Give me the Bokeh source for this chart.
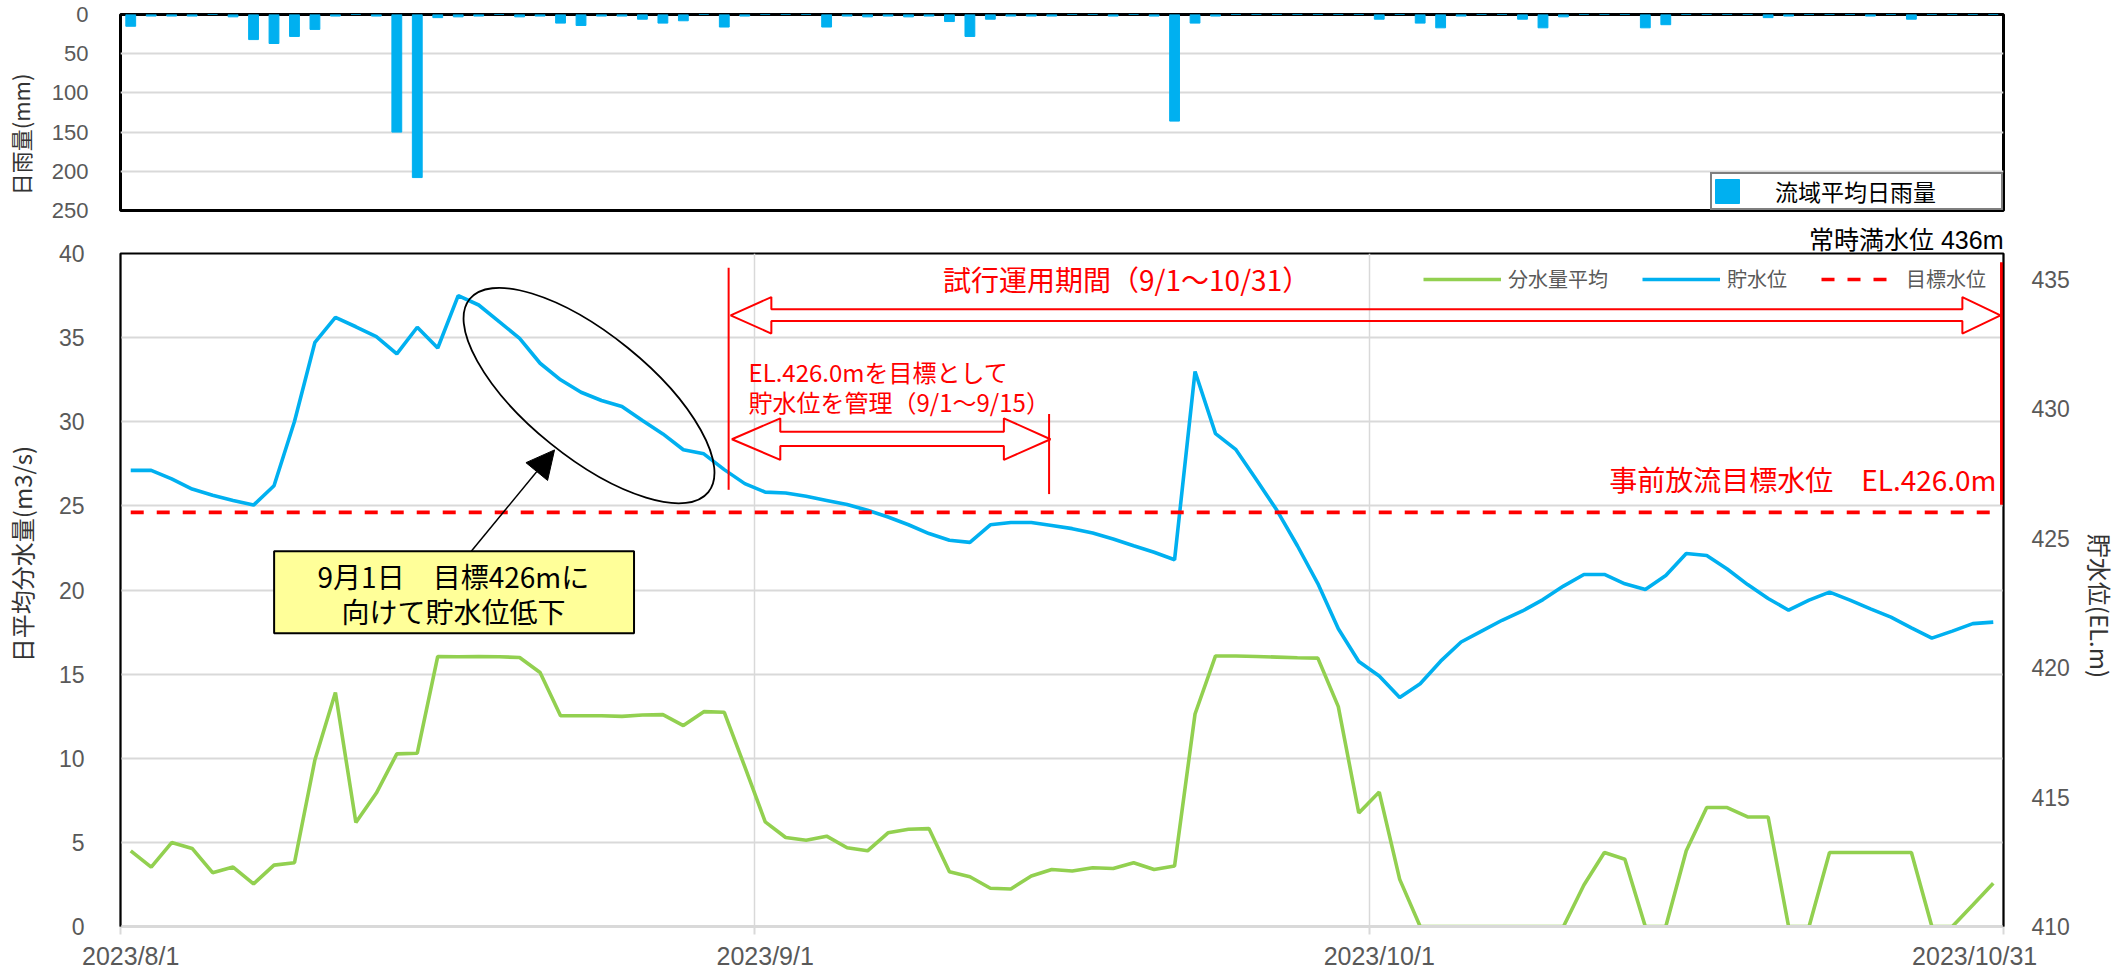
import math
from bokeh.plotting import figure
from bokeh.layouts import column
from bokeh.models import (Range1d, LinearAxis, FixedTicker, Legend, LegendItem,
                          Label, Arrow, NormalHead)
from bokeh.embed import file_html
from bokeh.resources import INLINE

# ---------------- data (day index 0 = 2023/8/1 ... 91 = 2023/10/31) ----------------
days = list(range(92))

rain_mm = [15, 2, 2, 2, 0, 3, 32, 37, 28, 19,
           2, 0, 2, 150, 208, 4, 3, 2, 0, 3,
           2, 11, 14, 2, 2, 6, 11, 8, 0, 16,
           2, 0, 0, 0, 16, 2, 3, 2, 3, 2,
           9, 28, 6, 2, 2, 2, 0, 0, 2, 0,
           2, 136, 11, 2, 0, 0, 0, 0, 0, 0,
           0, 6, 0, 11, 17, 2, 0, 0, 6, 17,
           3, 0, 0, 0, 17, 13, 0, 0, 0, 0,
           4, 2, 0, 0, 0, 2, 0, 6, 0, 0,
           0, 0]

diversion_m3s = [4.50, 3.53, 4.99, 4.64, 3.20, 3.53, 2.53, 3.65, 3.79, 9.91,
                 13.91, 6.18, 7.93, 10.26, 10.30, 16.05, 16.03, 16.05, 16.03, 15.99,
                 15.10, 12.53, 12.53, 12.53, 12.49, 12.57, 12.59, 11.94, 12.77, 12.73,
                 9.50, 6.22, 5.29, 5.13, 5.37, 4.68, 4.50, 5.57, 5.78, 5.82,
                 3.26, 2.96, 2.27, 2.23, 3.00, 3.39, 3.30, 3.49, 3.45, 3.79,
                 3.39, 3.59, 12.63, 16.08, 16.08, 16.05, 16.01, 15.97, 15.95, 13.07,
                 6.75, 7.99, 2.80, 0.0, 0.0, 0.0, 0.0, 0.0, 0.0, 0.0,
                 0.0, 2.47, 4.40, 4.00, 0.0, 0.0, 4.50, 7.07, 7.07, 6.51,
                 6.51, 0.0, 0.0, 4.40, 4.40, 4.40, 4.40, 4.40, 0.0, 0.0,
                 1.28, 2.57]

storage_level_m = [427.62, 427.62, 427.29, 426.90, 426.66, 426.46, 426.28, 427.03, 429.51, 432.57,
                   433.53, 433.17, 432.79, 432.12, 433.15, 432.35, 434.37, 434.01, 433.37, 432.72,
                   431.76, 431.12, 430.64, 430.32, 430.09, 429.55, 429.03, 428.42, 428.26, 427.65,
                   427.11, 426.78, 426.75, 426.62, 426.46, 426.30, 426.08, 425.82, 425.52, 425.18,
                   424.92, 424.84, 425.52, 425.61, 425.61, 425.49, 425.37, 425.20, 424.97, 424.71,
                   424.46, 424.17, 431.44, 429.04, 428.42, 427.26, 426.08, 424.71, 423.25, 421.50,
                   420.24, 419.68, 418.85, 419.38, 420.25, 420.99, 421.41, 421.83, 422.19, 422.63,
                   423.15, 423.60, 423.60, 423.24, 423.02, 423.56, 424.41, 424.33, 423.81, 423.21,
                   422.67, 422.22, 422.61, 422.92, 422.61, 422.27, 421.95, 421.54, 421.14, 421.41,
                   421.70, 421.76]

target_level_m = 426.0
full_level_m = 436.0

date_tick_positions = [0, 31, 61, 90.09]
date_tick_labels = ["2023/8/1", "2023/9/1", "2023/10/1", "2023/10/31"]
month_boundaries = [-0.5, 30.5, 60.5, 91.5]
rain_ticks = [0, 50, 100, 150, 200, 250]
flow_ticks = [0, 5, 10, 15, 20, 25, 30, 35, 40]
level_ticks = [410, 415, 420, 425, 430, 435]

BLUE = "#00B0F0"
GREEN = "#92D050"
RED = "#FF0000"
GRID = "#D9D9D9"
TICK = "#595959"
TITLE_C = "#333333"
JP = "Noto Sans CJK JP"
NUM = "Liberation Sans"
MIX = "Liberation Sans, Noto Sans CJK JP"   # latin metrics, CJK glyphs by fallback
W = 2120

# ---------------- layout helpers (page pixel -> data) ----------------
B_L, B_R, B_T, B_B = 111, 2006, 253, 928
bpx = (B_R - B_L) / 92.0
bpy = (B_B - B_T) / 40.0
def bx(X): return (X - B_L) / bpx - 0.5
def by(Y): return (B_B - Y) / bpy

# ---------------- top chart: rainfall ----------------
p1 = figure(width=W, height=223, x_range=Range1d(-0.5, 91.5), y_range=Range1d(250, 0),
            output_backend="svg", toolbar_location=None,
            min_border_top=14, min_border_bottom=13, min_border_left=115, min_border_right=W - 2006)
bars = p1.vbar(x=days, top=rain_mm, bottom=0, width=0.48, fill_color=BLUE, line_color=BLUE)
p1.xaxis.visible = False
ya = p1.yaxis[0]
ya.ticker = FixedTicker(ticks=rain_ticks)
ya.axis_line_color = None
ya.major_tick_line_color = None
ya.minor_tick_line_color = None
ya.major_label_text_font = NUM
ya.major_label_text_font_size = "22px"
ya.major_label_text_color = TICK
ya.major_label_standoff = 26
ya.axis_label = "日雨量(mm)" + "\u3000\u3000"
ya.axis_label_text_font = JP
ya.axis_label_text_font_size = "22px"
ya.axis_label_text_font_style = "normal"
ya.axis_label_text_color = TITLE_C
ya.axis_label_standoff = 13
p1.xgrid.visible = False
p1.ygrid.ticker = FixedTicker(ticks=[50, 100, 150, 200])
p1.ygrid.grid_line_color = GRID
p1.ygrid.grid_line_width = 2
p1.outline_line_color = "black"
p1.outline_line_width = 3
p1.outline_line_alpha = 1.0

leg1 = Legend(items=[LegendItem(label="流域平均日雨量", renderers=[bars])],
              location="bottom_right", margin=0, padding=0,
              glyph_width=30, glyph_height=30, label_standoff=33, label_width=226,
              label_text_font=MIX, label_text_font_size="23px", label_text_color="black",
              label_text_line_height=1.0,
              border_line_color="black", border_line_width=2,
              background_fill_color="white", background_fill_alpha=1.0)
p1.add_layout(leg1)

# ---------------- bottom chart: diversion & storage level ----------------
p2 = figure(width=W, height=749, x_range=Range1d(-0.5, 91.5), y_range=Range1d(0, 40),
            output_backend="svg", toolbar_location=None, title="常時満水位 436m",
            min_border_top=30, min_border_bottom=44, min_border_left=111, min_border_right=W - 2006)
p2.title.align = "right"
p2.title.text_font = MIX
p2.title.text_font_size = "25px"
p2.title.text_font_style = "normal"
p2.title.text_color = "black"
p2.title.standoff = 0
p2.extra_y_ranges = {"wl": Range1d(410, full_level_m)}

g_line = p2.line(days, diversion_m3s, line_color=GREEN, line_width=3.6)
b_line = p2.line(days, storage_level_m, y_range_name="wl", line_color=BLUE, line_width=3.6)
r_line = p2.line([days[0], days[-1]], [target_level_m, target_level_m], y_range_name="wl",
                 line_color=RED, line_width=3.6, line_dash="13 13")

xa = p2.xaxis[0]
xa.ticker = FixedTicker(ticks=date_tick_positions, minor_ticks=month_boundaries)
xa.major_label_overrides = {k: v for k, v in zip(date_tick_positions, date_tick_labels)}
xa.major_tick_line_color = None
xa.minor_tick_in = 0
xa.minor_tick_out = 8
xa.minor_tick_line_color = GRID
xa.minor_tick_line_width = 2
xa.axis_line_color = GRID
xa.axis_line_width = 3
xa.major_label_text_font = NUM
xa.major_label_text_font_size = "25px"
xa.major_label_text_color = TICK
xa.major_label_standoff = 7

la = p2.left[0]
la.ticker = FixedTicker(ticks=flow_ticks)
la.axis_line_color = "black"
la.axis_line_width = 1.5
la.major_tick_line_color = None
la.minor_tick_line_color = None
la.major_label_text_font = NUM
la.major_label_text_font_size = "23px"
la.major_label_text_color = TICK
la.major_label_standoff = 30
la.axis_label = "\u3000\u3000\u3000" + "日平均分水量(m3/s)"
la.axis_label_text_font = JP
la.axis_label_text_font_size = "24px"
la.axis_label_text_font_style = "normal"
la.axis_label_text_color = TITLE_C
la.axis_label_standoff = 17

ra = LinearAxis(y_range_name="wl", ticker=FixedTicker(ticks=level_ticks))
ra.axis_line_color = "black"
ra.axis_line_width = 1.5
ra.major_tick_line_color = None
ra.minor_tick_line_color = None
ra.major_label_text_font = NUM
ra.major_label_text_font_size = "23px"
ra.major_label_text_color = TICK
ra.major_label_standoff = 22
ra.axis_label = "\u3000\u2004" + "貯水位(EL.m)"
ra.axis_label_text_font = JP
ra.axis_label_text_font_size = "24px"
ra.axis_label_text_font_style = "normal"
ra.axis_label_text_color = TITLE_C
ra.axis_label_standoff = 10
p2.add_layout(ra, "right")

p2.ygrid.ticker = FixedTicker(ticks=[5, 10, 15, 20, 25, 30, 35])
p2.ygrid.grid_line_color = GRID
p2.ygrid.grid_line_width = 2
p2.xgrid.ticker = FixedTicker(ticks=[30.5, 60.5])
p2.xgrid.grid_line_color = GRID
p2.xgrid.grid_line_width = 1.5
p2.outline_line_color = "black"
p2.outline_line_width = 2
p2.outline_line_alpha = 1.0

leg2 = Legend(items=[LegendItem(label="分水量平均", renderers=[g_line]),
                     LegendItem(label="貯水位", renderers=[b_line]),
                     LegendItem(label="目標水位", renderers=[r_line])],
              orientation="horizontal", location=(1303, 633), margin=0, padding=0,
              spacing=34, glyph_width=78, glyph_height=20, label_standoff=7,
              label_text_font=JP, label_text_font_size="20px", label_text_color=TICK,
              border_line_color=None, background_fill_alpha=0)
p2.add_layout(leg2)

# --- annotation shapes (positions in page px converted to data) ---
def block_arrow(x_tip_l, x_base_l, x_base_r, x_tip_r, y_mid, y_head_t, y_head_b, y_sh_t, y_sh_b):
    X = [x_tip_l, x_base_l, x_base_l, x_base_r, x_base_r, x_tip_r, x_base_r, x_base_r, x_base_l, x_base_l]
    Y = [y_mid, y_head_t, y_sh_t, y_sh_t, y_head_t, y_mid, y_head_b, y_sh_b, y_sh_b, y_head_b]
    return [bx(v) for v in X], [by(v) for v in Y]

ax1, ay1 = block_arrow(725, 766, 1964.6, 2003, 315, 296.7, 333.3, 309, 320.7)
p2.patch(ax1, ay1, fill_alpha=0, line_color=RED, line_width=2)
ax2, ay2 = block_arrow(726.3, 775, 1000, 1046.9, 439.3, 418.3, 460, 431.7, 446)
p2.patch(ax2, ay2, fill_alpha=0, line_color=RED, line_width=2)

p2.segment(x0=[bx(723), bx(1045.5)], y0=[by(267.3), by(414)],
           x1=[bx(723), bx(1045.5)], y1=[by(490), by(494.3)], line_color=RED, line_width=2)
p2.segment(x0=[bx(2004)], y0=[by(261.7)], x1=[bx(2004)], y1=[by(505)], line_color=RED, line_width=3)

p2.ellipse(x=[bx(582.5)], y=[by(395.5)], width=[307], height=[123],
           width_units="screen", height_units="screen", angle=-0.68,
           fill_alpha=0, line_color="black", line_width=1.8)

p2.quad(left=[bx(265.6)], right=[bx(627.8)], top=[by(551.7)], bottom=[by(634)],
        fill_color="#FFFF99", line_color="black", line_width=2)
p2.add_layout(Arrow(end=NormalHead(size=28, fill_color="black", line_color="black"),
                    x_start=bx(464), y_start=by(551.7), x_end=bx(547.8), y_end=by(450),
                    line_color="black", line_width=1.5))

def lab(text, X, Y, size, color, align="left"):
    p2.add_layout(Label(x=bx(X), y=by(Y), text=text, text_align=align, text_baseline="middle",
                        text_font=JP, text_font_size=size, text_color=color))

lab("試行運用期間（9/1～10/31）", 1123.5, 279, "28px", RED, "center")
lab("EL.426.0mを目標として", 743, 371.7, "24px", RED)
lab("貯水位を管理（9/1～9/15）", 743, 401, "24px", RED)
lab("事前放流目標水位　EL.426.0m", 1999, 479.5, "28px", RED, "right")
lab("9月1日　目標426mに", 446, 576.7, "28px", "black", "center")
lab("向けて貯水位低下", 446, 612, "28px", "black", "center")

layout = column(p1, p2, spacing=0)
open("out.html", "w").write(file_html(layout, INLINE))
